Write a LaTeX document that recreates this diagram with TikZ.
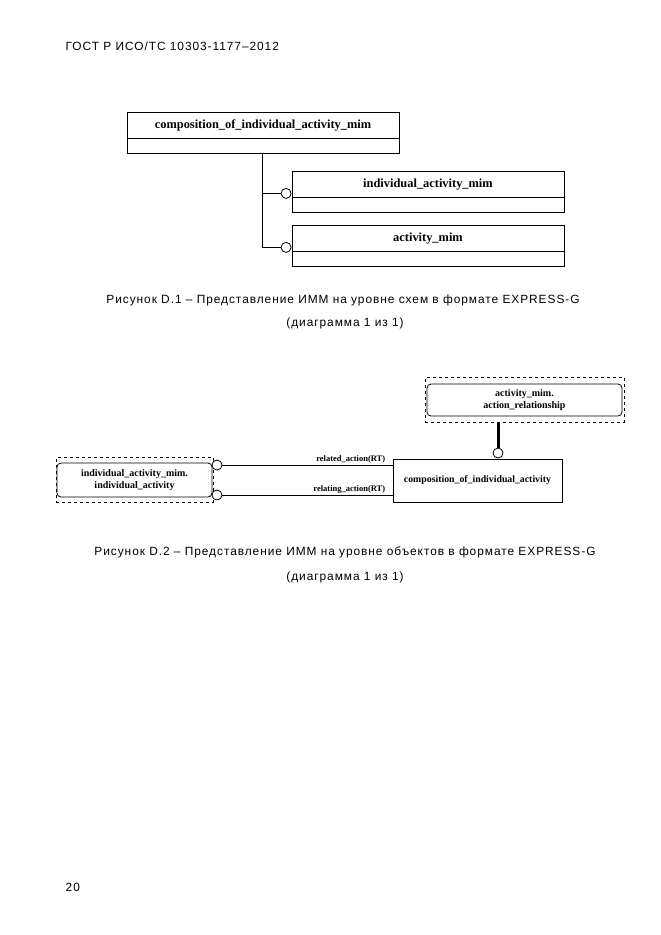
\documentclass[tikz,border=0pt]{standalone}
\usepackage{fontspec}
\setmainfont{Liberation Serif}
\newfontfamily\gostfont[LetterSpace=8]{Liberation Sans}
\usetikzlibrary{positioning, fit}

\begin{document}
\begin{tikzpicture}[x=1pt, y=-1pt, line width=.8pt,
    ent/.style={draw, minimum width=272pt, minimum height=26pt, inner sep=0pt, text height=8pt, text depth=2pt, font=\bfseries\fontsize{12.4}{14}\selectfont},
    entbody/.style={draw, minimum width=272pt, minimum height=15pt, inner sep=0pt},
    ring/.style={draw, circle, minimum size=10pt, inner sep=0pt, fill=white},
    obj/.style={draw, rounded corners=4pt, align=center, inner sep=0pt, font=\bfseries\fontsize{10}{12}\selectfont},
    ref/.style={draw, dashed, inner sep=0pt},
    role/.style={font=\bfseries\fontsize{8.5}{9}\selectfont, inner sep=1pt},
    captext/.style={font=\gostfont\fontsize{11.9}{14}\selectfont}
]
    \useasboundingbox (0,0) rectangle (661,935);
    \node[captext, anchor=west] (hdr) at (62,46) {ГОСТ Р ИСО/ТС 10303-1177–2012};
    \node[captext, anchor=west] (pg) at (62,887) {20};

    % schema level
    \node[ent] (comp) at (263,125) {composition\_of\_individual\_activity\_mim};
    \node[entbody, below=0pt of comp] (compbody) {};
    \draw[line width=1.6pt] (comp.south west) -- (comp.south east);
    \node[ent] (ind) at (428,184) {individual\_activity\_mim};
    \node[entbody, below=0pt of ind] (indbody) {};
    \node[ent] (act) at (428,238) {activity\_mim};
    \node[entbody, below=0pt of act] (actbody) {};
    \node[ring] (r1) at ([xshift=-5.5pt,yshift=4pt]ind.south west) {};
    \node[ring] (r2) at ([xshift=-5.5pt,yshift=4pt]act.south west) {};
    \coordinate (trunk) at ([xshift=-1pt]compbody.south);
    \draw (trunk) |- (r1.west);
    \draw (trunk) |- (r2.west);

    \node[captext] (cap1) at (343,300) {Рисунок D.1 – Представление ИММ на уровне схем в формате EXPRESS-G};
    \node[captext] (cap1b) at (345,323) {(диаграмма 1 из 1)};

    % instance level
    \node[obj, minimum width=195pt, minimum height=32pt] (arel) at (524.5,400) {activity\_mim.\\action\_relationship};
    \node[ref, fit=(arel), inner xsep=1.5pt, inner ysep=6pt] (arelref) {};
    \node[draw, minimum width=169pt, minimum height=43pt, inner sep=0pt, font=\bfseries\fontsize{9.8}{11}\selectfont] (comp2) at (477.5,480.5) {composition\_of\_individual\_activity};
    \node[ring] (r3) at (498,453) {};
    \draw[line width=3pt] (arelref.south -| r3) -- (r3.north);
    \node[obj, minimum width=155pt, minimum height=34pt] (ind2) at (134.5,480) {individual\_activity\_mim.\\individual\_activity};
    \node[ref, fit=(ind2), inner xsep=.5pt, inner ysep=5pt] (ind2ref) {};
    \node[ring] (r4) at (217,465) {};
    \node[ring] (r5) at (217,495) {};
    \draw (r4.east) -- node[role, pos=1, above left, xshift=-6pt] {related\_action(RT)} (r4.east -| comp2.west);
    \draw (r5.east) -- node[role, pos=1, above left, xshift=-6pt] {relating\_action(RT)} (r5.east -| comp2.west);

    \node[captext] (cap2) at (345,552) {Рисунок D.2 – Представление ИММ на уровне объектов в формате EXPRESS-G};
    \node[captext] (cap2b) at (345,577) {(диаграмма 1 из 1)};
\end{tikzpicture}
\end{document}
